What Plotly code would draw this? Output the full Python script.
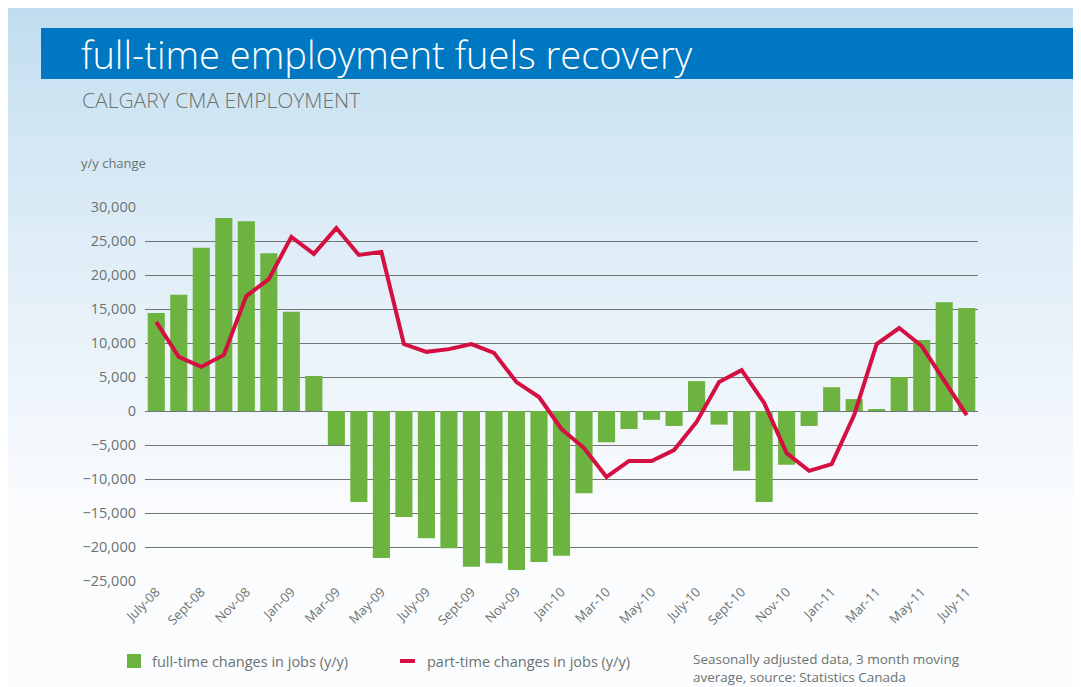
import plotly.graph_objects as go

# ── Data ─────────────────────────────────────────────────────────────────────
MONTHS = [
    "July-08", "Aug-08", "Sept-08", "Oct-08", "Nov-08", "Dec-08",
    "Jan-09", "Feb-09", "Mar-09", "Apr-09", "May-09", "June-09",
    "July-09", "Aug-09", "Sept-09", "Oct-09", "Nov-09", "Dec-09",
    "Jan-10", "Feb-10", "Mar-10", "Apr-10", "May-10", "June-10",
    "July-10", "Aug-10", "Sept-10", "Oct-10", "Nov-10", "Dec-10",
    "Jan-11", "Feb-11", "Mar-11", "Apr-11", "May-11", "June-11", "July-11",
]
FULL_TIME = [
    14400, 17100, 24000, 28400, 27900, 23200,
    14600, 5150, -5000, -13400, -21600, -15600,
    -18700, -20200, -22900, -22400, -23400, -22200,
    -21300, -12100, -4600, -2650, -1300, -2200,
    4400, -2000, -8800, -13400, -7900, -2200,
    3500, 1750, 150, 5000, 10450, 16000, 15150,
]
PART_TIME = [
    13100, 7950, 6500, 8250, 16900, 19400,
    25600, 23100, 26900, 22950, 23400, 9850,
    8700, 9100, 9850, 8550, 4250, 2050,
    -2650, -5450, -9700, -7350, -7350, -5750,
    -1600, 4250, 6000, 1200, -6200, -8800,
    -7800, -600, 9850, 12200, 9550, 4400, -600,
]
TICK_LABELS = [m if i % 2 == 0 else "" for i, m in enumerate(MONTHS)]
Y_TICKS = list(range(-25000, 30001, 5000))

# ── Theme ────────────────────────────────────────────────────────────────────
# the page body adds an 8px white margin, so the figure is 8px smaller
OFF = 8
W, H = 1081 - OFF, 687 - OFF
GREEN = "#6db33f"
RED = "#d40f42"
BLUE_BAR = "#0077c1"
GRID = "#6f7774"
TEXT = "#6b7370"
FONT = "Open Sans, sans-serif"

def px_x(x):
    return (x - OFF) / W

def px_y(y):
    return 1 - (y - OFF) / H

x_idx = list(range(len(MONTHS)))

fig = go.Figure()
fig.add_trace(go.Bar(
    x=x_idx, y=FULL_TIME, marker_color=GREEN, marker_line_width=0,
    width=0.76, name="full-time changes in jobs (y/y)",
))
fig.add_trace(go.Scatter(
    x=x_idx, y=PART_TIME, mode="lines", line=dict(color=RED, width=4),
    name="part-time changes in jobs (y/y)",
))

# background gradient strips
shapes = []
top_c = (192, 221, 239)
bot_c = (251, 252, 254)
n = 120
for i in range(n):
    ya = H * i / n
    yb = H * (i + 1) / n + 1
    t = min(1.0, (i / n) / 0.75) ** 0.85
    c = tuple(round(top_c[k] + (bot_c[k] - top_c[k]) * t) for k in range(3))
    shapes.append(dict(
        type="rect", xref="paper", yref="paper", layer="below",
        x0=0, x1=1, y0=1 - yb / H, y1=1 - ya / H,
        fillcolor="rgb(%d,%d,%d)" % c, line_width=0,
    ))
# title bar
shapes.append(dict(type="rect", xref="paper", yref="paper", layer="below",
                   x0=px_x(41), x1=1, y0=px_y(79), y1=px_y(28),
                   fillcolor=BLUE_BAR, line_width=0))
# legend marks
shapes.append(dict(type="rect", xref="paper", yref="paper",
                   x0=px_x(127), x1=px_x(141), y0=px_y(668), y1=px_y(654),
                   fillcolor=GREEN, line_width=0))
shapes.append(dict(type="line", xref="paper", yref="paper",
                   x0=px_x(400), x1=px_x(415), y0=px_y(661), y1=px_y(661),
                   line=dict(color=RED, width=4)))

annotations = [
    dict(text="full-time employment fuels recovery", x=px_x(79), y=px_y(54),
         font=dict(size=38, color="white", family=FONT, weight=300)),
    dict(text="CALGARY CMA EMPLOYMENT", x=px_x(80), y=px_y(100),
         font=dict(size=21, color=TEXT, family=FONT, weight=300)),
    dict(text="y/y change", x=px_x(79), y=px_y(163),
         font=dict(size=13, color=TEXT, family=FONT)),
    dict(text="full-time changes in jobs (y/y)", x=px_x(150), y=px_y(661),
         font=dict(size=14.5, color=TEXT, family=FONT)),
    dict(text="part-time changes in jobs (y/y)", x=px_x(425), y=px_y(661),
         font=dict(size=14.5, color=TEXT, family=FONT)),
    dict(text="Seasonally adjusted data, 3 month moving<br>average, source: Statistics Canada",
         x=px_x(692), y=px_y(668), align="left", borderpad=0,
         font=dict(size=13.5, color=TEXT, family=FONT)),
]
for a in annotations:
    a.update(xref="paper", yref="paper", xanchor="left", yanchor="middle", showarrow=False)

fig.update_layout(
    width=W, height=H,
    margin=dict(l=0, r=0, t=0, b=0),
    paper_bgcolor="white",
    plot_bgcolor="rgba(0,0,0,0)",
    showlegend=False,
    shapes=shapes,
    annotations=annotations,
    font=dict(family=FONT, color=TEXT),
)
fig.update_xaxes(
    domain=[px_x(145), px_x(978)], range=[-0.5, 36.5],
    tickmode="array", tickvals=x_idx, ticktext=TICK_LABELS,
    tickangle=-45, tickfont=dict(size=13, color=TEXT),
    showgrid=False, zeroline=False, showline=False, ticks="", automargin=False,
)
fig.update_yaxes(
    domain=[px_y(581), px_y(207)], range=[-25000, 30000],
    tickmode="array", tickvals=Y_TICKS, tickformat=",d",
    tickfont=dict(size=14.5, color=TEXT),
    showgrid=True, gridcolor=GRID, gridwidth=1.2,
    zeroline=True, zerolinecolor=GRID, zerolinewidth=1.2,
    showline=False, ticks="", automargin=False, ticklabelstandoff=8,
)

fig.write_html("out.html")
